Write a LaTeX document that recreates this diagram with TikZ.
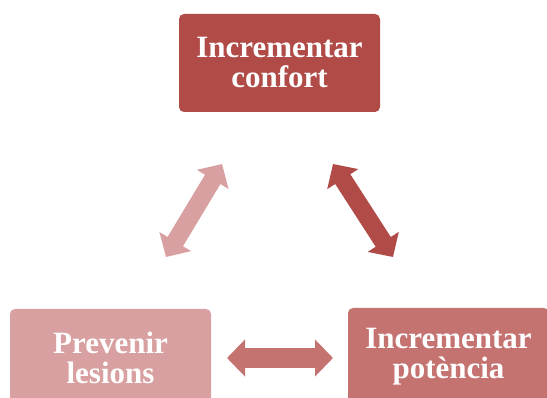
\documentclass[tikz,border=0pt]{standalone}
\usepackage{fontspec}
\setmainfont{Liberation Serif}
\usetikzlibrary{arrows.meta}

\definecolor{confortred}{HTML}{B04B48}
\definecolor{potenciared}{HTML}{C47371}
\definecolor{lesionspink}{HTML}{D8A0A0}

\tikzset{
    goal/.style={rounded corners=5pt, minimum width=201pt, minimum height=98pt,
        inner sep=0pt, align=center, text=white,
        font=\fontsize{31}{30}\selectfont\bfseries},
    link/.style={line width=18pt,
        {Triangle[length=18pt,width=36pt]}-{Triangle[length=18pt,width=36pt]}}
}

\begin{document}
\begin{tikzpicture}[x=1pt, y=-1pt]
    \useasboundingbox (0,0) rectangle (547,398);
    \clip (0,0) rectangle (547,398);

    \node[goal, fill=confortred] (confort) at (279.5,63) {Incrementar\\confort};
    \node[goal, fill=lesionspink] (lesions) at (110.5,358) {Prevenir\\lesions};
    \node[goal, fill=potenciared] (potencia) at (448.5,357) {Incrementar\\potència};

    % arrow ends between the three goals
    \coordinate (confort-sw) at (222,164);
    \coordinate (confort-se) at (333,164);
    \coordinate (lesions-ne) at (166,257);
    \coordinate (lesions-e)  at (227,358);
    \coordinate (potencia-nw) at (393,257);
    \coordinate (potencia-w)  at (333,358);

    \draw[link, draw=lesionspink] (lesions-ne) -- (confort-sw);
    \draw[link, draw=confortred] (confort-se) -- (potencia-nw);
    \draw[link, draw=potenciared, line width=20pt] (lesions-e) -- (potencia-w);
\end{tikzpicture}
\end{document}
